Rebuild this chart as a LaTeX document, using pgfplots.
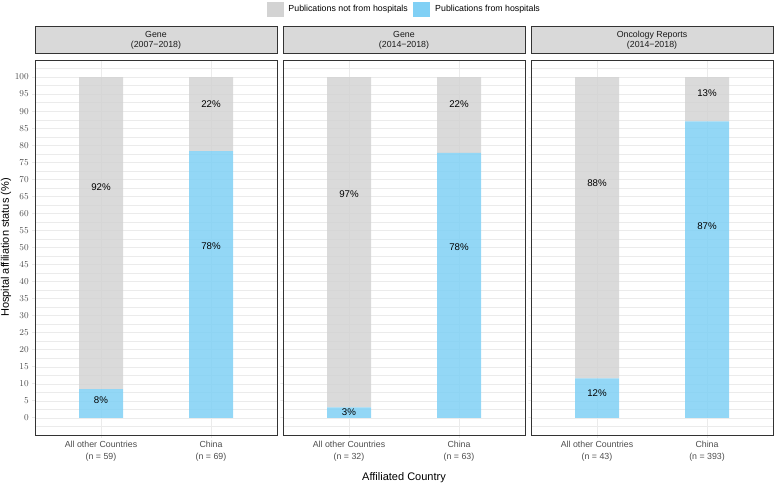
\documentclass[border=0pt]{standalone}
\usepackage{fontspec}
\setmainfont{Liberation Sans}
\usepackage{pgfplots}
\pgfplotsset{compat=1.18}
\definecolor{bargray}{RGB}{211,211,211}
\definecolor{barblue}{RGB}{128,208,245}
\definecolor{gridc}{RGB}{235,235,235}
\definecolor{framec}{RGB}{51,51,51}
\definecolor{tickc}{RGB}{77,77,77}
\definecolor{stripc}{RGB}{217,217,217}
\definecolor{stript}{RGB}{26,26,26}

\pgfplotsset{
  panelgeom/.style={
    width=242pt, height=375pt, scale only axis,
    xmin=0.4, xmax=2.6, ymin=-5, ymax=105,
  },
  panel/.style={
    panelgeom,
    xtick={1,2}, ytick={0,5,...,100},
    minor ytick={-2.5,2.5,...,102.5},
    grid=both,
    major grid style={gridc, line width=0.55pt},
    minor grid style={gridc, line width=0.3pt},
    axis line style={framec, line width=0.55pt},
    tick align=outside, major tick length=2.75pt, minor tick length=0pt,
    tick pos=left,
    tick style={framec, line width=0.55pt},
    xticklabel style={font=\fontsize{8.8}{11.5}\selectfont, text=tickc, align=center},
    yticklabel style={font=\fontsize{8.8}{10}\selectfont, text=tickc},
    ybar stacked, bar width=0.4,
    title style={at={(0.5,1)}, anchor=south, fill=stripc, draw=framec, line width=0.55pt,
      minimum width=242pt, minimum height=27pt, inner sep=0pt, align=center,
      font=\fontsize{8.8}{10.5}\selectfont, text=stript},
  },
  labels/.style={
    panelgeom, hide axis,
  },
  lab/.style={draw=none, mark=none, nodes near coords, point meta=explicit symbolic,
    nodes near coords style={anchor=center, font=\fontsize{9.7}{11}\selectfont, text=black}},
  blue/.style={fill=barblue, fill opacity=0.85, draw=none},
  gray/.style={fill=bargray, fill opacity=0.85, draw=none},
}

\begin{document}
\begin{tikzpicture}
\useasboundingbox (0,0) rectangle (775pt,484pt);

% ---------- Panel 1
\begin{axis}[panel, at={(35pt,49pt)}, anchor=south west,
  title={Gene\\(2007−2018)},
  xticklabels={{All other Countries\\(n = 59)},{China\\(n = 69)}},
  ylabel={Hospital affiliation status (\%)},
  ylabel style={at={(axis description cs:-0.12,0.5)}, anchor=center, font=\fontsize{11}{13}\selectfont, text=black},
]
\addplot[blue] coordinates {(1,8.47) (2,78.26)};
\addplot[gray] coordinates {(1,91.53) (2,21.74)};
\end{axis}
\begin{axis}[labels, at={(35pt,49pt)}, anchor=south west]
\addplot[lab] coordinates {(1,67.7) [92\%] (1,5.3) [8\%] (2,92.1) [22\%] (2,50.4) [78\%]};
\end{axis}

% ---------- Panel 2
\begin{axis}[panel, at={(283pt,49pt)}, anchor=south west,
  title={Gene\\(2014−2018)},
  xticklabels={{All other Countries\\(n = 32)},{China\\(n = 63)}},
  yticklabels={}, ytick style={draw=none},
  xlabel={Affiliated Country},
  xlabel style={at={(axis description cs:0.5,-0.1139)}, anchor=center, font=\fontsize{11}{13}\selectfont, text=black},
  legend columns=2,
  legend style={at={(axis description cs:0.5,1)}, anchor=center, yshift=51pt, draw=none, fill=none,
    font=\fontsize{8.8}{10}\selectfont, nodes={inner sep=1.5pt},
    /tikz/every odd column/.append style={column sep=4pt},
    /tikz/every even column/.append style={column sep=4pt}},
  legend cell align=left,
]
\addlegendimage{legend image code/.code={\fill[bargray] (0pt,-7pt) rectangle (16pt,7pt);}}
\addlegendentry{Publications not from hospitals}
\addlegendimage{legend image code/.code={\fill[barblue] (0pt,-7pt) rectangle (16pt,7pt);}}
\addlegendentry{Publications from hospitals}
\addplot[blue, forget plot] coordinates {(1,3.13) (2,77.78)};
\addplot[gray, forget plot] coordinates {(1,96.87) (2,22.22)};
\end{axis}
\begin{axis}[labels, at={(283pt,49pt)}, anchor=south west]
\addplot[lab] coordinates {(1,65.7) [97\%] (1,1.7) [3\%] (2,92.1) [22\%] (2,50.2) [78\%]};
\end{axis}

% ---------- Panel 3
\begin{axis}[panel, at={(531pt,49pt)}, anchor=south west,
  title={Oncology Reports\\(2014−2018)},
  xticklabels={{All other Countries\\(n = 43)},{China\\(n = 393)}},
  yticklabels={}, ytick style={draw=none},
]
\addplot[blue] coordinates {(1,11.63) (2,87.02)};
\addplot[gray] coordinates {(1,88.37) (2,12.98)};
\end{axis}
\begin{axis}[labels, at={(531pt,49pt)}, anchor=south west]
\addplot[lab] coordinates {(1,68.8) [88\%] (1,7.4) [12\%] (2,95.2) [13\%] (2,56.4) [87\%]};
\end{axis}
\end{tikzpicture}
\end{document}
